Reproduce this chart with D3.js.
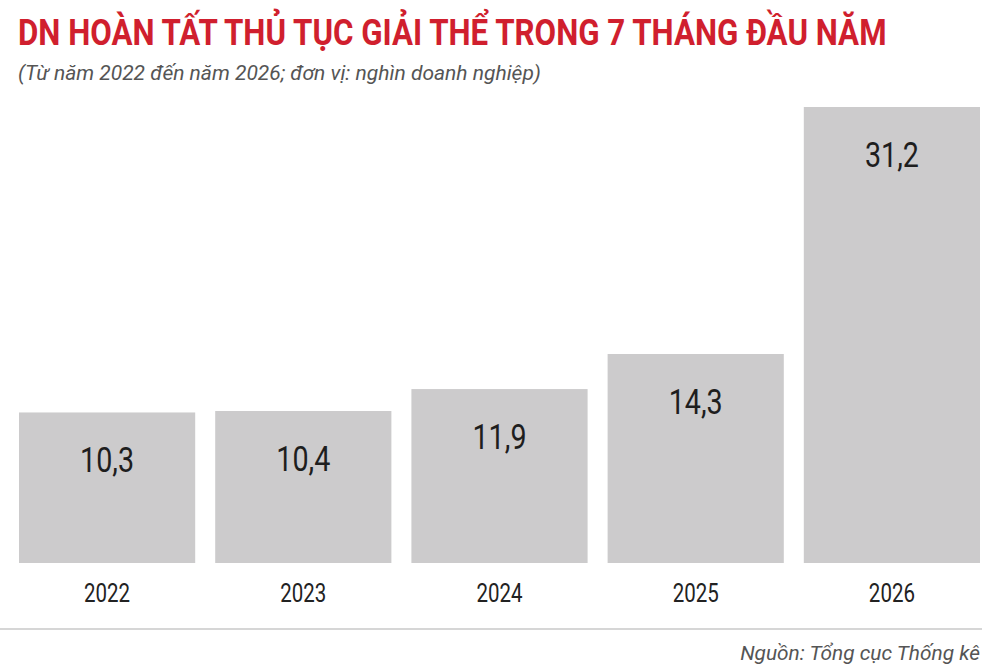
<!DOCTYPE html>
<html>
<head>
  <meta charset="utf-8">
  <title>DN hoàn tất thủ tục giải thể</title>
  <script src="https://d3js.org/d3.v7.min.js"></script>
  <style>
    body { margin: 0; background: #fff; }
    text { font-family: Roboto, "Noto Sans", sans-serif; }
  </style>
</head>
<body>
  <div id="chart"></div>

  <script>
    // data (thousand enterprises)
    const years = ["2022", "2023", "2024", "2025", "2026"];
    const values = [10.3, 10.4, 11.9, 14.3, 31.2];
    const valueLabels = ["10,3", "10,4", "11,9", "14,3", "31,2"];

    const titleText = "DN HOÀN TẤT THỦ TỤC GIẢI THỂ TRONG 7 THÁNG ĐẦU NĂM";
    const subtitleText = "(Từ năm 2022 đến năm 2026; đơn vị: nghìn doanh nghiệp)";
    const sourceText = "Nguồn: Tổng cục Thống kê";

    const W = 1000, H = 670;
    const margin = { top: 107, right: 20, bottom: 107, left: 19 };

    const svg = d3.select("#chart")
      .append("svg")
      .attr("width", W)
      .attr("height", H);

    const x = d3.scaleBand()
      .domain(years)
      .range([margin.left, W - margin.right])
      .paddingInner(0.102)
      .paddingOuter(0);

    const y = d3.scaleLinear()
      .domain([0, d3.max(values)])
      .range([H - margin.bottom, margin.top]);

    const data = years.map((d, i) => ({ year: d, value: values[i], label: valueLabels[i] }));

    // squeeze a text horizontally so it spans `width` px (condensed look)
    function squeeze(sel, px, py, width, anchor) {
      const t = sel.node();
      const k = width / t.getComputedTextLength();
      sel.attr("text-anchor", anchor || "start")
        .attr("transform", "translate(" + px + "," + py + ") scale(" + k + ",1)");
    }

    // title + subtitle
    const title = svg.append("text")
      .style("font-size", "37px")
      .style("font-weight", "bold")
      .style("fill", "#d01f2e")
      .text(titleText);
    squeeze(title, 18, 45, 869);

    const subtitle = svg.append("text")
      .style("font-size", "21px")
      .style("font-style", "italic")
      .style("fill", "#555")
      .text(subtitleText);
    squeeze(subtitle, 18, 80, 523);

    // bars
    svg.selectAll(".bar")
      .data(data)
      .enter()
      .append("rect")
      .attr("class", "bar")
      .attr("x", d => x(d.year))
      .attr("y", d => y(d.value))
      .attr("width", x.bandwidth())
      .attr("height", d => y(0) - y(d.value))
      .style("fill", "#cccbcc");

    // value labels inside bars
    svg.selectAll(".val")
      .data(data)
      .enter()
      .append("text")
      .attr("class", "val")
      .attr("transform", d => "translate(" + (x(d.year) + x.bandwidth() / 2) + "," + (y(d.value) + 60) + ") scale(0.82,1)")
      .attr("text-anchor", "middle")
      .style("font-size", "35px")
      .style("fill", "#1e1e1e")
      .text(d => d.label);

    // x axis labels
    const xAxis = svg.append("g")
      .attr("transform", "translate(0," + (H - margin.bottom) + ")")
      .call(d3.axisBottom(x).tickSize(0).tickPadding(0));
    xAxis.select(".domain").remove();
    xAxis.selectAll("text")
      .attr("y", 0)
      .attr("dy", null)
      .attr("transform", "translate(0,39) scale(0.82,1)")
      .style("font-size", "25px")
      .style("font-family", "Roboto, sans-serif")
      .style("fill", "#222");

    // separator + source
    svg.append("line")
      .attr("x1", 0)
      .attr("x2", 982)
      .attr("y1", 629)
      .attr("y2", 629)
      .style("stroke", "#c8c8c8")
      .style("stroke-width", 1.5);

    const source = svg.append("text")
      .style("font-size", "21px")
      .style("font-style", "italic")
      .style("fill", "#555")
      .text(sourceText);
    squeeze(source, 980, 660, 240, "end");
  </script>
</body>
</html>
